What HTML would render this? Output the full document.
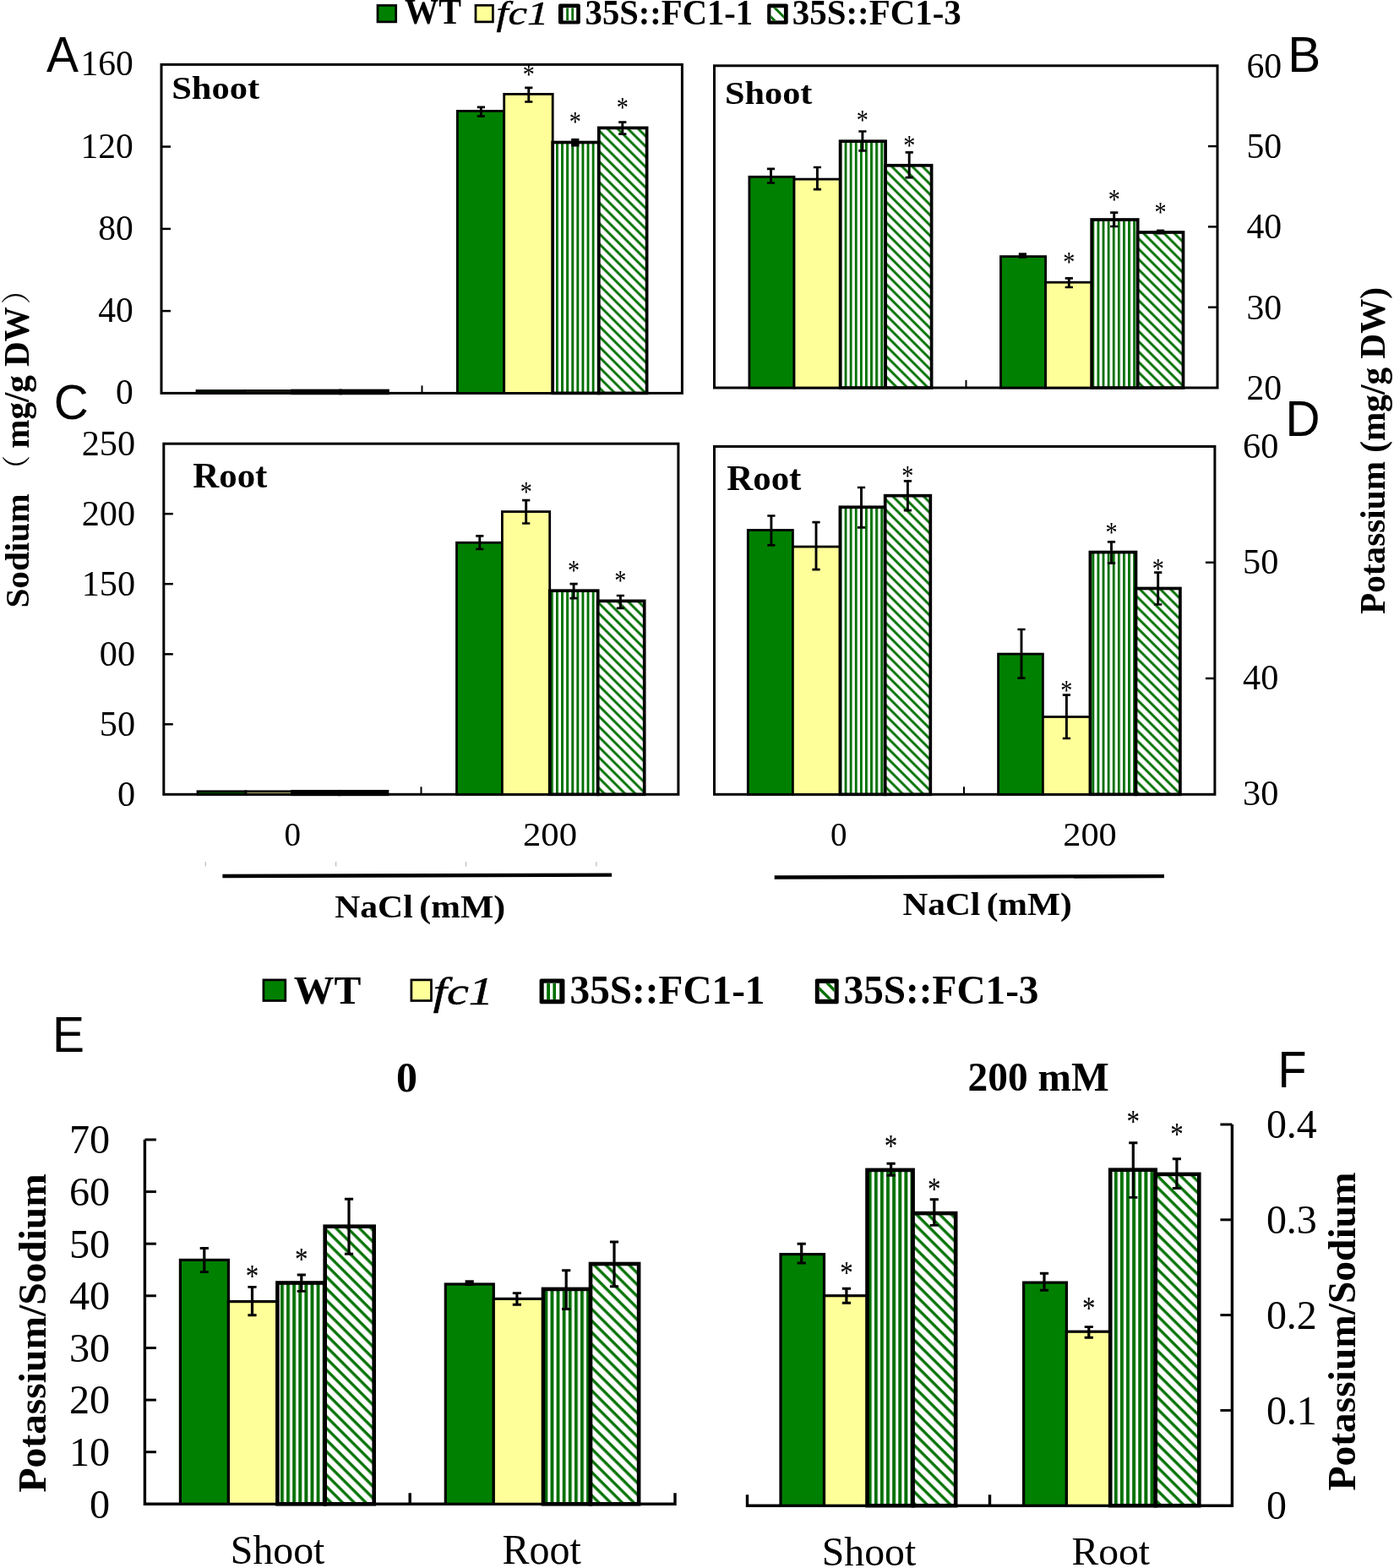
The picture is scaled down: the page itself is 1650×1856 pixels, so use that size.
<!DOCTYPE html>
<html><head><meta charset="utf-8"><title>Figure</title>
<style>html,body{margin:0;padding:0;background:#fff;width:1650px;height:1856px;overflow:hidden}svg{display:block}</style>
</head><body>
<svg width="1650" height="1856" viewBox="0 0 1650 1856">
<defs>
<pattern id="vs" patternUnits="userSpaceOnUse" width="6.1" height="10" patternTransform="translate(5.3 0)"><rect width="6.1" height="10" fill="#fff"/><rect x="0" width="2.9" height="10" fill="#007000"/></pattern>
<pattern id="ds" patternUnits="userSpaceOnUse" width="8.6" height="8.6" patternTransform="rotate(45)"><rect width="8.6" height="8.6" fill="#fff"/><rect y="2.16" width="8.6" height="2.9" fill="#007000"/></pattern>
<pattern id="vs2" patternUnits="userSpaceOnUse" width="7.1" height="10" patternTransform="translate(5.4 0)"><rect width="7.1" height="10" fill="#fff"/><rect x="0" width="3.9" height="10" fill="#007000"/></pattern>
<pattern id="ds2" patternUnits="userSpaceOnUse" width="9.75" height="9.75" patternTransform="rotate(45)"><rect width="9.75" height="9.75" fill="#fff"/><rect y="4.06" width="9.75" height="3.3" fill="#007000"/></pattern>
</defs>
<rect width="1650" height="1856" fill="#fff"/>
<rect x="447.0" y="6.4" width="21.7" height="19.5" fill="#008000" stroke="#000" stroke-width="2.7"/>
<rect x="563.0" y="6.3" width="20.4" height="19.6" fill="#ffff99" stroke="#000" stroke-width="2.7"/>
<clipPath id="lg1"><rect x="666.5" y="9.2" width="15.7" height="15.2"/></clipPath>
<rect x="661" y="4.4" width="25.8" height="24.2" rx="2" fill="#000"/>
<rect x="666.5" y="9.2" width="15.7" height="15.2" fill="#fff"/>
<g clip-path="url(#lg1)" fill="#007000" stroke="#007000">
<rect x="670.2" y="9.2" width="2.8" height="15.2" stroke="none"/>
<rect x="676.3" y="9.2" width="2.8" height="15.2" stroke="none"/>
</g>
<clipPath id="lg2"><rect x="912.4" y="9.2" width="15.5" height="15.2"/></clipPath>
<rect x="908.2" y="4.6" width="24.5" height="24.2" rx="2" fill="#000"/>
<rect x="912.4" y="9.2" width="15.5" height="15.2" fill="#fff"/>
<g clip-path="url(#lg2)" fill="#007000" stroke="#007000">
<path d="M892.4 -15.4L947.9 40.1" stroke-width="2.9" fill="none"/>
<path d="M892.4 -0.1L947.9 55.4" stroke-width="2.9" fill="none"/>
<path d="M892.4 -30.7L947.9 24.8" stroke-width="2.9" fill="none"/>
</g>
<rect x="311.9" y="1159.9" width="25.9" height="24.6" fill="#008000" stroke="#000" stroke-width="2.7"/>
<rect x="486.9" y="1159.9" width="23.6" height="24.6" fill="#ffff99" stroke="#000" stroke-width="2.7"/>
<clipPath id="lg3"><rect x="643.7" y="1163.7" width="18.7" height="19.4"/></clipPath>
<rect x="638.6" y="1158.6" width="29.8" height="29.6" rx="2" fill="#000"/>
<rect x="643.7" y="1163.7" width="18.7" height="19.4" fill="#fff"/>
<g clip-path="url(#lg3)" fill="#007000" stroke="#007000">
<rect x="647.1" y="1163.7" width="3.9" height="19.4" stroke="none"/>
<rect x="654.4" y="1163.7" width="3.6" height="19.4" stroke="none"/>
<rect x="661.9" y="1163.7" width="3.1" height="19.4" stroke="none"/>
</g>
<clipPath id="lg4"><rect x="969.7" y="1163.9" width="17.9" height="18.9"/></clipPath>
<rect x="964.8" y="1158.6" width="27.9" height="29.6" rx="2" fill="#000"/>
<rect x="969.7" y="1163.9" width="17.9" height="18.9" fill="#fff"/>
<g clip-path="url(#lg4)" fill="#007000" stroke="#007000">
<path d="M949.7 1134.2L1007.6 1192.1" stroke-width="3.4" fill="none"/>
<path d="M949.7 1150.0L1007.6 1207.9" stroke-width="3.4" fill="none"/>
<path d="M949.7 1118.4L1007.6 1176.3" stroke-width="3.4" fill="none"/>
</g>
<rect x="191" y="76.4" width="616.4" height="389.0" fill="none" stroke="#000" stroke-width="3"/>
<path d="M191 368.1H202" stroke="#000" stroke-width="2.5"/>
<path d="M191 270.9H202" stroke="#000" stroke-width="2.5"/>
<path d="M191 173.6H202" stroke="#000" stroke-width="2.5"/>
<text x="157.70" y="478.25" font-size="41.53" text-anchor="end" font-family="'Liberation Serif', 'Times New Roman', serif">0</text>
<text x="157.70" y="381.00" font-size="41.53" text-anchor="end" font-family="'Liberation Serif', 'Times New Roman', serif">40</text>
<text x="157.70" y="283.75" font-size="41.53" text-anchor="end" font-family="'Liberation Serif', 'Times New Roman', serif">80</text>
<text x="157.70" y="186.50" font-size="41.53" text-anchor="end" font-family="'Liberation Serif', 'Times New Roman', serif">120</text>
<text x="157.70" y="89.25" font-size="41.53" text-anchor="end" font-family="'Liberation Serif', 'Times New Roman', serif">160</text>
<path d="M499.5 465.4V456.4" stroke="#000" stroke-width="2"/>
<rect x="233.0" y="462.5" width="56.5" height="2.9" fill="#008000" stroke="#000" stroke-width="2.8"/>
<rect x="289.5" y="462.5" width="56.5" height="2.9" fill="#ffff99" stroke="#000" stroke-width="2.8"/>
<rect x="346.0" y="462.5" width="57.0" height="2.9" fill="url(#vs)" stroke="#000" stroke-width="3.7"/>
<rect x="403.0" y="462.5" width="56.0" height="2.9" fill="url(#ds)" stroke="#000" stroke-width="3.7"/>
<rect x="541.4" y="131.4" width="55.3" height="334.0" fill="#008000" stroke="#000" stroke-width="2.8"/>
<rect x="596.7" y="111.4" width="57.5" height="354.0" fill="#ffff99" stroke="#000" stroke-width="2.8"/>
<rect x="654.2" y="168.5" width="54.6" height="296.9" fill="url(#vs)" stroke="#000" stroke-width="3.7"/>
<rect x="708.8" y="151.4" width="56.8" height="314.0" fill="url(#ds)" stroke="#000" stroke-width="3.7"/>
<path d="M569.4 126.8V137.7" stroke="#000" stroke-width="2.9" fill="none"/>
<path d="M564.8 126.8H574.0M564.8 137.7H574.0" stroke="#000" stroke-width="2.7" fill="none"/>
<path d="M625.8 103.8V120.5" stroke="#000" stroke-width="2.9" fill="none"/>
<path d="M621.2 103.8H630.4M621.2 120.5H630.4" stroke="#000" stroke-width="2.7" fill="none"/>
<text transform="translate(625.8 82.8) scale(0.940 1.120)" x="0" y="14.3" font-size="30" text-anchor="middle" font-family="'Liberation Serif', 'Times New Roman', serif">*</text>
<rect x="676.2" y="163.9" width="9.2" height="9.6" fill="#000"/>
<text transform="translate(680.8 138.9) scale(0.940 1.120)" x="0" y="14.3" font-size="30" text-anchor="middle" font-family="'Liberation Serif', 'Times New Roman', serif">*</text>
<path d="M736.8 144.7V158.6" stroke="#000" stroke-width="2.9" fill="none"/>
<path d="M732.2 144.7H741.4M732.2 158.6H741.4" stroke="#000" stroke-width="2.7" fill="none"/>
<text transform="translate(736.8 122.3) scale(0.940 1.120)" x="0" y="14.3" font-size="30" text-anchor="middle" font-family="'Liberation Serif', 'Times New Roman', serif">*</text>
<rect x="845.5" y="77.8" width="595.5" height="381.2" fill="none" stroke="#000" stroke-width="3"/>
<path d="M1441 363.7H1430" stroke="#000" stroke-width="2.5"/>
<path d="M1441 268.4H1430" stroke="#000" stroke-width="2.5"/>
<path d="M1441 173.1H1430" stroke="#000" stroke-width="2.5"/>
<text x="1475.50" y="473.00" font-size="41.72" text-anchor="start" font-family="'Liberation Serif', 'Times New Roman', serif">20</text>
<text x="1475.50" y="377.70" font-size="41.72" text-anchor="start" font-family="'Liberation Serif', 'Times New Roman', serif">30</text>
<text x="1475.50" y="282.40" font-size="41.72" text-anchor="start" font-family="'Liberation Serif', 'Times New Roman', serif">40</text>
<text x="1475.50" y="187.10" font-size="41.72" text-anchor="start" font-family="'Liberation Serif', 'Times New Roman', serif">50</text>
<text x="1475.50" y="91.80" font-size="41.72" text-anchor="start" font-family="'Liberation Serif', 'Times New Roman', serif">60</text>
<path d="M1143.5 459V450" stroke="#000" stroke-width="2"/>
<rect x="886.9" y="209.3" width="53.1" height="249.7" fill="#008000" stroke="#000" stroke-width="2.8"/>
<rect x="940.0" y="212.1" width="54.6" height="246.9" fill="#ffff99" stroke="#000" stroke-width="2.8"/>
<rect x="994.6" y="167.2" width="53.5" height="291.8" fill="url(#vs)" stroke="#000" stroke-width="3.7"/>
<rect x="1048.1" y="195.8" width="54.5" height="263.2" fill="url(#ds)" stroke="#000" stroke-width="3.7"/>
<path d="M912.5 199.9V216.5" stroke="#000" stroke-width="2.9" fill="none"/>
<path d="M907.9 199.9H917.1M907.9 216.5H917.1" stroke="#000" stroke-width="2.7" fill="none"/>
<path d="M967.4 198.0V224.2" stroke="#000" stroke-width="2.9" fill="none"/>
<path d="M962.8 198.0H972.0M962.8 224.2H972.0" stroke="#000" stroke-width="2.7" fill="none"/>
<path d="M1020.9 155.5V178.4" stroke="#000" stroke-width="2.9" fill="none"/>
<path d="M1016.3 155.5H1025.5M1016.3 178.4H1025.5" stroke="#000" stroke-width="2.7" fill="none"/>
<text transform="translate(1020.9 137.1) scale(0.940 1.120)" x="0" y="14.3" font-size="30" text-anchor="middle" font-family="'Liberation Serif', 'Times New Roman', serif">*</text>
<path d="M1076.2 180.3V210.1" stroke="#000" stroke-width="2.9" fill="none"/>
<path d="M1071.6 180.3H1080.8M1071.6 210.1H1080.8" stroke="#000" stroke-width="2.7" fill="none"/>
<text transform="translate(1076.2 167.2) scale(0.940 1.120)" x="0" y="14.3" font-size="30" text-anchor="middle" font-family="'Liberation Serif', 'Times New Roman', serif">*</text>
<rect x="1184.5" y="303.6" width="53.1" height="155.4" fill="#008000" stroke="#000" stroke-width="2.8"/>
<rect x="1237.6" y="334.2" width="54.6" height="124.8" fill="#ffff99" stroke="#000" stroke-width="2.8"/>
<rect x="1292.2" y="260.0" width="54.5" height="199.0" fill="url(#vs)" stroke="#000" stroke-width="3.7"/>
<rect x="1346.7" y="275.0" width="53.8" height="184.0" fill="url(#ds)" stroke="#000" stroke-width="3.7"/>
<rect x="1205.8" y="299.3" width="9.2" height="6.5" fill="#000"/>
<path d="M1265.3 329.4V340.0" stroke="#000" stroke-width="2.9" fill="none"/>
<path d="M1260.7 329.4H1269.9M1260.7 340.0H1269.9" stroke="#000" stroke-width="2.7" fill="none"/>
<text transform="translate(1265.3 305.1) scale(0.940 1.120)" x="0" y="14.3" font-size="30" text-anchor="middle" font-family="'Liberation Serif', 'Times New Roman', serif">*</text>
<path d="M1318.7 251.7V268.0" stroke="#000" stroke-width="2.9" fill="none"/>
<path d="M1314.1 251.7H1323.3M1314.1 268.0H1323.3" stroke="#000" stroke-width="2.7" fill="none"/>
<text transform="translate(1318.7 230.5) scale(0.940 1.120)" x="0" y="14.3" font-size="30" text-anchor="middle" font-family="'Liberation Serif', 'Times New Roman', serif">*</text>
<rect x="1369.0" y="271.6" width="9.2" height="5.9" fill="#000"/>
<text transform="translate(1373.6 245.9) scale(0.940 1.120)" x="0" y="14.3" font-size="30" text-anchor="middle" font-family="'Liberation Serif', 'Times New Roman', serif">*</text>
<rect x="193.8" y="525.2" width="609.0999999999999" height="415.0999999999999" fill="none" stroke="#000" stroke-width="3"/>
<path d="M193.8 857.3H204.8" stroke="#000" stroke-width="2.5"/>
<path d="M193.8 774.3H204.8" stroke="#000" stroke-width="2.5"/>
<path d="M193.8 691.2H204.8" stroke="#000" stroke-width="2.5"/>
<path d="M193.8 608.2H204.8" stroke="#000" stroke-width="2.5"/>
<text x="160.10" y="954.33" font-size="42.30" text-anchor="end" font-family="'Liberation Serif', 'Times New Roman', serif">0</text>
<text x="160.10" y="871.31" font-size="42.30" text-anchor="end" font-family="'Liberation Serif', 'Times New Roman', serif">50</text>
<text x="160.10" y="788.29" font-size="42.30" text-anchor="end" font-family="'Liberation Serif', 'Times New Roman', serif">00</text>
<text x="160.10" y="705.27" font-size="42.30" text-anchor="end" font-family="'Liberation Serif', 'Times New Roman', serif">150</text>
<text x="160.10" y="622.25" font-size="42.30" text-anchor="end" font-family="'Liberation Serif', 'Times New Roman', serif">200</text>
<text x="160.10" y="539.23" font-size="42.30" text-anchor="end" font-family="'Liberation Serif', 'Times New Roman', serif">250</text>
<path d="M498.5 940.3V931.3" stroke="#000" stroke-width="2"/>
<rect x="234.0" y="936.8" width="57.0" height="3.5" fill="#008000" stroke="#000" stroke-width="2.8"/>
<rect x="291.0" y="936.8" width="55.0" height="3.5" fill="#ffff99" stroke="#000" stroke-width="2.8"/>
<rect x="346.0" y="936.8" width="56.0" height="3.5" fill="url(#vs)" stroke="#000" stroke-width="3.7"/>
<rect x="402.0" y="936.8" width="56.5" height="3.5" fill="url(#ds)" stroke="#000" stroke-width="3.7"/>
<rect x="540.5" y="642.3" width="53.9" height="298.0" fill="#008000" stroke="#000" stroke-width="2.8"/>
<rect x="594.4" y="605.6" width="56.3" height="334.7" fill="#ffff99" stroke="#000" stroke-width="2.8"/>
<rect x="650.7" y="699.2" width="57.0" height="241.1" fill="url(#vs)" stroke="#000" stroke-width="3.7"/>
<rect x="707.7" y="711.4" width="55.0" height="228.9" fill="url(#ds)" stroke="#000" stroke-width="3.7"/>
<path d="M567.8 634.4V650.0" stroke="#000" stroke-width="2.9" fill="none"/>
<path d="M563.2 634.4H572.4M563.2 650.0H572.4" stroke="#000" stroke-width="2.7" fill="none"/>
<path d="M622.7 592.1V619.5" stroke="#000" stroke-width="2.9" fill="none"/>
<path d="M618.1 592.1H627.3M618.1 619.5H627.3" stroke="#000" stroke-width="2.7" fill="none"/>
<text transform="translate(622.7 577.3) scale(0.940 1.120)" x="0" y="14.3" font-size="30" text-anchor="middle" font-family="'Liberation Serif', 'Times New Roman', serif">*</text>
<path d="M679.1 691.2V708.2" stroke="#000" stroke-width="2.9" fill="none"/>
<path d="M674.5 691.2H683.7M674.5 708.2H683.7" stroke="#000" stroke-width="2.7" fill="none"/>
<text transform="translate(679.1 670.4) scale(0.940 1.120)" x="0" y="14.3" font-size="30" text-anchor="middle" font-family="'Liberation Serif', 'Times New Roman', serif">*</text>
<path d="M734.4 705.0V719.8" stroke="#000" stroke-width="2.9" fill="none"/>
<path d="M729.8 705.0H739.0M729.8 719.8H739.0" stroke="#000" stroke-width="2.7" fill="none"/>
<text transform="translate(734.4 682.3) scale(0.940 1.120)" x="0" y="14.3" font-size="30" text-anchor="middle" font-family="'Liberation Serif', 'Times New Roman', serif">*</text>
<rect x="845.5" y="528.5" width="592.4000000000001" height="411.79999999999995" fill="none" stroke="#000" stroke-width="3"/>
<path d="M1437.9 803.0H1426.9" stroke="#000" stroke-width="2.5"/>
<path d="M1437.9 665.8H1426.9" stroke="#000" stroke-width="2.5"/>
<text x="1471.10" y="953.33" font-size="42.30" text-anchor="start" font-family="'Liberation Serif', 'Times New Roman', serif">30</text>
<text x="1471.10" y="816.06" font-size="42.30" text-anchor="start" font-family="'Liberation Serif', 'Times New Roman', serif">40</text>
<text x="1471.10" y="678.80" font-size="42.30" text-anchor="start" font-family="'Liberation Serif', 'Times New Roman', serif">50</text>
<text x="1471.10" y="541.53" font-size="42.30" text-anchor="start" font-family="'Liberation Serif', 'Times New Roman', serif">60</text>
<path d="M1141 940.3V931.3" stroke="#000" stroke-width="2"/>
<rect x="885.3" y="627.5" width="53.1" height="312.8" fill="#008000" stroke="#000" stroke-width="2.8"/>
<rect x="938.4" y="647.1" width="56.0" height="293.2" fill="#ffff99" stroke="#000" stroke-width="2.8"/>
<rect x="994.4" y="600.3" width="53.3" height="340.0" fill="url(#vs)" stroke="#000" stroke-width="3.7"/>
<rect x="1047.7" y="586.7" width="53.6" height="353.6" fill="url(#ds)" stroke="#000" stroke-width="3.7"/>
<path d="M912.9 610.5V645.4" stroke="#000" stroke-width="2.9" fill="none"/>
<path d="M908.3 610.5H917.5M908.3 645.4H917.5" stroke="#000" stroke-width="2.7" fill="none"/>
<path d="M966.0 618.2V674.2" stroke="#000" stroke-width="2.9" fill="none"/>
<path d="M961.4 618.2H970.6M961.4 674.2H970.6" stroke="#000" stroke-width="2.7" fill="none"/>
<path d="M1019.5 577.0V624.3" stroke="#000" stroke-width="2.9" fill="none"/>
<path d="M1014.9 577.0H1024.1M1014.9 624.3H1024.1" stroke="#000" stroke-width="2.7" fill="none"/>
<path d="M1074.4 569.3V604.2" stroke="#000" stroke-width="2.9" fill="none"/>
<path d="M1069.8 569.3H1079.0M1069.8 604.2H1079.0" stroke="#000" stroke-width="2.7" fill="none"/>
<text transform="translate(1074.4 558.1) scale(0.940 1.120)" x="0" y="14.3" font-size="30" text-anchor="middle" font-family="'Liberation Serif', 'Times New Roman', serif">*</text>
<rect x="1181.6" y="774.1" width="52.8" height="166.2" fill="#008000" stroke="#000" stroke-width="2.8"/>
<rect x="1234.4" y="848.5" width="56.0" height="91.8" fill="#ffff99" stroke="#000" stroke-width="2.8"/>
<rect x="1290.4" y="653.6" width="54.1" height="286.7" fill="url(#vs)" stroke="#000" stroke-width="3.7"/>
<rect x="1344.5" y="696.5" width="52.4" height="243.8" fill="url(#ds)" stroke="#000" stroke-width="3.7"/>
<path d="M1209.0 745.0V802.7" stroke="#000" stroke-width="2.9" fill="none"/>
<path d="M1204.4 745.0H1213.6M1204.4 802.7H1213.6" stroke="#000" stroke-width="2.7" fill="none"/>
<path d="M1262.4 822.7V874.0" stroke="#000" stroke-width="2.9" fill="none"/>
<path d="M1257.8 822.7H1267.0M1257.8 874.0H1267.0" stroke="#000" stroke-width="2.7" fill="none"/>
<text transform="translate(1262.4 812.2) scale(0.940 1.120)" x="0" y="14.3" font-size="30" text-anchor="middle" font-family="'Liberation Serif', 'Times New Roman', serif">*</text>
<path d="M1315.5 641.3V666.7" stroke="#000" stroke-width="2.9" fill="none"/>
<path d="M1310.9 641.3H1320.1M1310.9 666.7H1320.1" stroke="#000" stroke-width="2.7" fill="none"/>
<text transform="translate(1315.5 625.3) scale(0.940 1.120)" x="0" y="14.3" font-size="30" text-anchor="middle" font-family="'Liberation Serif', 'Times New Roman', serif">*</text>
<path d="M1370.7 677.6V715.5" stroke="#000" stroke-width="2.9" fill="none"/>
<path d="M1366.1 677.6H1375.3M1366.1 715.5H1375.3" stroke="#000" stroke-width="2.7" fill="none"/>
<text transform="translate(1370.7 667.5) scale(0.940 1.120)" x="0" y="14.3" font-size="30" text-anchor="middle" font-family="'Liberation Serif', 'Times New Roman', serif">*</text>
<path d="M263.4 1037L724.1 1035.6M916.7 1038.5L1377.9 1037.1" stroke="#000" stroke-width="4.4"/>
<path d="M243.2 1020V1025.6" stroke="#bbb" stroke-width="1.2"/>
<path d="M397.6 1020V1025.6" stroke="#bbb" stroke-width="1.2"/>
<path d="M551.5 1020V1025.6" stroke="#bbb" stroke-width="1.2"/>
<path d="M705.8 1020V1025.6" stroke="#bbb" stroke-width="1.2"/>
<path d="M171.4 1349V1780.3H799V1767.3M485.2 1780.3V1767.3" stroke="#000" stroke-width="3.4" fill="none"/>
<path d="M171.4 1718.7H184.9" stroke="#000" stroke-width="3"/>
<path d="M171.4 1657.1H184.9" stroke="#000" stroke-width="3"/>
<path d="M171.4 1595.5H184.9" stroke="#000" stroke-width="3"/>
<path d="M171.4 1533.8H184.9" stroke="#000" stroke-width="3"/>
<path d="M171.4 1472.2H184.9" stroke="#000" stroke-width="3"/>
<path d="M171.4 1410.6H184.9" stroke="#000" stroke-width="3"/>
<path d="M171.4 1349.0H184.9" stroke="#000" stroke-width="3"/>
<text x="130.10" y="1796.71" font-size="48.21" text-anchor="end" font-family="'Liberation Serif', 'Times New Roman', serif">0</text>
<text x="130.10" y="1735.10" font-size="48.21" text-anchor="end" font-family="'Liberation Serif', 'Times New Roman', serif">10</text>
<text x="130.10" y="1673.48" font-size="48.21" text-anchor="end" font-family="'Liberation Serif', 'Times New Roman', serif">20</text>
<text x="130.10" y="1611.87" font-size="48.21" text-anchor="end" font-family="'Liberation Serif', 'Times New Roman', serif">30</text>
<text x="130.10" y="1550.25" font-size="48.21" text-anchor="end" font-family="'Liberation Serif', 'Times New Roman', serif">40</text>
<text x="130.10" y="1488.64" font-size="48.21" text-anchor="end" font-family="'Liberation Serif', 'Times New Roman', serif">50</text>
<text x="130.10" y="1427.02" font-size="48.21" text-anchor="end" font-family="'Liberation Serif', 'Times New Roman', serif">60</text>
<text x="130.10" y="1365.41" font-size="48.21" text-anchor="end" font-family="'Liberation Serif', 'Times New Roman', serif">70</text>
<rect x="213.4" y="1491.4" width="57.0" height="288.9" fill="#008000" stroke="#000" stroke-width="3.2"/>
<rect x="270.4" y="1540.6" width="58.0" height="239.7" fill="#ffff99" stroke="#000" stroke-width="3.2"/>
<rect x="328.4" y="1518.5" width="56.3" height="261.8" fill="url(#vs2)" stroke="#000" stroke-width="4.6"/>
<rect x="384.7" y="1451.7" width="58.0" height="328.6" fill="url(#ds2)" stroke="#000" stroke-width="4.6"/>
<path d="M241.8 1477.5V1505.6" stroke="#000" stroke-width="3.2" fill="none"/>
<path d="M236.7 1477.5H246.9M236.7 1505.6H246.9" stroke="#000" stroke-width="2.9" fill="none"/>
<path d="M298.5 1523.4V1556.8" stroke="#000" stroke-width="3.2" fill="none"/>
<path d="M293.4 1523.4H303.6M293.4 1556.8H303.6" stroke="#000" stroke-width="2.9" fill="none"/>
<text transform="translate(298.5 1505.6) scale(1.034 1.232)" x="0" y="14.3" font-size="30" text-anchor="middle" font-family="'Liberation Serif', 'Times New Roman', serif">*</text>
<path d="M356.8 1509.0V1528.4" stroke="#000" stroke-width="3.2" fill="none"/>
<path d="M351.7 1509.0H361.9M351.7 1528.4H361.9" stroke="#000" stroke-width="2.9" fill="none"/>
<text transform="translate(356.8 1485.1) scale(1.034 1.232)" x="0" y="14.3" font-size="30" text-anchor="middle" font-family="'Liberation Serif', 'Times New Roman', serif">*</text>
<path d="M413.0 1419.2V1484.3" stroke="#000" stroke-width="3.2" fill="none"/>
<path d="M407.9 1419.2H418.1M407.9 1484.3H418.1" stroke="#000" stroke-width="2.9" fill="none"/>
<rect x="527.3" y="1520.0" width="57.0" height="260.3" fill="#008000" stroke="#000" stroke-width="3.2"/>
<rect x="584.3" y="1537.4" width="58.7" height="242.9" fill="#ffff99" stroke="#000" stroke-width="3.2"/>
<rect x="643.0" y="1525.9" width="56.0" height="254.4" fill="url(#vs2)" stroke="#000" stroke-width="4.6"/>
<rect x="699.0" y="1496.0" width="57.1" height="284.3" fill="url(#ds2)" stroke="#000" stroke-width="4.6"/>
<rect x="550.6" y="1515.3" width="10.2" height="6.7" fill="#000"/>
<path d="M611.9 1530.6V1544.3" stroke="#000" stroke-width="3.2" fill="none"/>
<path d="M606.8 1530.6H617.0M606.8 1544.3H617.0" stroke="#000" stroke-width="2.9" fill="none"/>
<path d="M670.2 1503.8V1549.5" stroke="#000" stroke-width="3.2" fill="none"/>
<path d="M665.1 1503.8H675.3M665.1 1549.5H675.3" stroke="#000" stroke-width="2.9" fill="none"/>
<path d="M727.0 1470.0V1522.7" stroke="#000" stroke-width="3.2" fill="none"/>
<path d="M721.9 1470.0H732.1M721.9 1522.7H732.1" stroke="#000" stroke-width="2.9" fill="none"/>
<path d="M884.5 1769.2V1782.2H1458.4V1331M1171.5 1782.2V1769.2" stroke="#000" stroke-width="3.4" fill="none"/>
<path d="M1458.4 1669.4H1444.4" stroke="#000" stroke-width="3"/>
<path d="M1458.4 1556.6H1444.4" stroke="#000" stroke-width="3"/>
<path d="M1458.4 1443.8H1444.4" stroke="#000" stroke-width="3"/>
<path d="M1458.4 1331.0H1444.4" stroke="#000" stroke-width="3"/>
<text x="1498.90" y="1798.36" font-size="47.93" text-anchor="start" font-family="'Liberation Serif', 'Times New Roman', serif">0</text>
<text x="1498.90" y="1685.56" font-size="47.93" text-anchor="start" font-family="'Liberation Serif', 'Times New Roman', serif">0.1</text>
<text x="1498.90" y="1572.76" font-size="47.93" text-anchor="start" font-family="'Liberation Serif', 'Times New Roman', serif">0.2</text>
<text x="1498.90" y="1459.96" font-size="47.93" text-anchor="start" font-family="'Liberation Serif', 'Times New Roman', serif">0.3</text>
<text x="1498.90" y="1347.16" font-size="47.93" text-anchor="start" font-family="'Liberation Serif', 'Times New Roman', serif">0.4</text>
<rect x="924.0" y="1484.6" width="51.5" height="297.6" fill="#008000" stroke="#000" stroke-width="3.2"/>
<rect x="975.5" y="1533.7" width="51.0" height="248.5" fill="#ffff99" stroke="#000" stroke-width="3.2"/>
<rect x="1026.5" y="1384.9" width="54.1" height="397.3" fill="url(#vs2)" stroke="#000" stroke-width="4.6"/>
<rect x="1080.6" y="1436.1" width="50.6" height="346.1" fill="url(#ds2)" stroke="#000" stroke-width="4.6"/>
<path d="M948.7 1472.2V1495.0" stroke="#000" stroke-width="3.2" fill="none"/>
<path d="M943.6 1472.2H953.8M943.6 1495.0H953.8" stroke="#000" stroke-width="2.9" fill="none"/>
<path d="M1001.9 1525.2V1542.2" stroke="#000" stroke-width="3.2" fill="none"/>
<path d="M996.8 1525.2H1007.0M996.8 1542.2H1007.0" stroke="#000" stroke-width="2.9" fill="none"/>
<text transform="translate(1001.9 1501.0) scale(1.034 1.232)" x="0" y="14.3" font-size="30" text-anchor="middle" font-family="'Liberation Serif', 'Times New Roman', serif">*</text>
<path d="M1054.6 1377.3V1391.3" stroke="#000" stroke-width="3.2" fill="none"/>
<path d="M1049.5 1377.3H1059.7M1049.5 1391.3H1059.7" stroke="#000" stroke-width="2.9" fill="none"/>
<text transform="translate(1054.6 1351.1) scale(1.034 1.232)" x="0" y="14.3" font-size="30" text-anchor="middle" font-family="'Liberation Serif', 'Times New Roman', serif">*</text>
<path d="M1105.8 1419.8V1450.4" stroke="#000" stroke-width="3.2" fill="none"/>
<path d="M1100.7 1419.8H1110.9M1100.7 1450.4H1110.9" stroke="#000" stroke-width="2.9" fill="none"/>
<text transform="translate(1105.8 1402.0) scale(1.034 1.232)" x="0" y="14.3" font-size="30" text-anchor="middle" font-family="'Liberation Serif', 'Times New Roman', serif">*</text>
<rect x="1211.6" y="1518.1" width="50.8" height="264.1" fill="#008000" stroke="#000" stroke-width="3.2"/>
<rect x="1262.4" y="1576.2" width="51.8" height="206.0" fill="#ffff99" stroke="#000" stroke-width="3.2"/>
<rect x="1314.2" y="1384.7" width="53.5" height="397.5" fill="url(#vs2)" stroke="#000" stroke-width="4.6"/>
<rect x="1367.7" y="1389.9" width="51.6" height="392.3" fill="url(#ds2)" stroke="#000" stroke-width="4.6"/>
<path d="M1236.0 1507.3V1527.2" stroke="#000" stroke-width="3.2" fill="none"/>
<path d="M1230.9 1507.3H1241.1M1230.9 1527.2H1241.1" stroke="#000" stroke-width="2.9" fill="none"/>
<path d="M1288.8 1570.6V1583.3" stroke="#000" stroke-width="3.2" fill="none"/>
<path d="M1283.7 1570.6H1293.9M1283.7 1583.3H1293.9" stroke="#000" stroke-width="2.9" fill="none"/>
<text transform="translate(1288.8 1543.0) scale(1.034 1.232)" x="0" y="14.3" font-size="30" text-anchor="middle" font-family="'Liberation Serif', 'Times New Roman', serif">*</text>
<path d="M1341.3 1352.7V1417.4" stroke="#000" stroke-width="3.2" fill="none"/>
<path d="M1336.2 1352.7H1346.4M1336.2 1417.4H1346.4" stroke="#000" stroke-width="2.9" fill="none"/>
<text transform="translate(1341.3 1322.8) scale(1.034 1.232)" x="0" y="14.3" font-size="30" text-anchor="middle" font-family="'Liberation Serif', 'Times New Roman', serif">*</text>
<path d="M1392.9 1371.8V1406.5" stroke="#000" stroke-width="3.2" fill="none"/>
<path d="M1387.8 1371.8H1398.0M1387.8 1406.5H1398.0" stroke="#000" stroke-width="2.9" fill="none"/>
<text transform="translate(1392.9 1337.1) scale(1.034 1.232)" x="0" y="14.3" font-size="30" text-anchor="middle" font-family="'Liberation Serif', 'Times New Roman', serif">*</text>
<text x="55.00" y="85.20" font-size="58.72" font-family="'Liberation Sans', Arial, sans-serif" textLength="38.00" lengthAdjust="spacingAndGlyphs">A</text>
<text x="1524.20" y="85.40" font-size="58.41" font-family="'Liberation Sans', Arial, sans-serif" textLength="39.00" lengthAdjust="spacingAndGlyphs">B</text>
<text x="63.80" y="496.00" font-size="57.79" font-family="'Liberation Sans', Arial, sans-serif" textLength="41.00" lengthAdjust="spacingAndGlyphs">C</text>
<text x="1521.60" y="516.20" font-size="58.72" font-family="'Liberation Sans', Arial, sans-serif" textLength="41.00" lengthAdjust="spacingAndGlyphs">D</text>
<text x="62.00" y="1245.20" font-size="58.72" font-family="'Liberation Sans', Arial, sans-serif" textLength="38.00" lengthAdjust="spacingAndGlyphs">E</text>
<text x="1512.60" y="1286.60" font-size="60.47" font-family="'Liberation Sans', Arial, sans-serif" textLength="34.00" lengthAdjust="spacingAndGlyphs">F</text>
<text x="203.20" y="117.00" font-size="38.87" font-family="'Liberation Serif', 'Times New Roman', serif" font-weight="bold" textLength="104.00" lengthAdjust="spacingAndGlyphs">Shoot</text>
<text x="858.00" y="123.00" font-size="38.56" font-family="'Liberation Serif', 'Times New Roman', serif" font-weight="bold" textLength="103.40" lengthAdjust="spacingAndGlyphs">Shoot</text>
<text x="228.20" y="577.00" font-size="42.74" font-family="'Liberation Serif', 'Times New Roman', serif" font-weight="bold" textLength="88.20" lengthAdjust="spacingAndGlyphs">Root</text>
<text x="860.20" y="580.00" font-size="42.00" font-family="'Liberation Serif', 'Times New Roman', serif" font-weight="bold" textLength="88.20" lengthAdjust="spacingAndGlyphs">Root</text>
<text x="336.40" y="1000.60" font-size="39.06" font-family="'Liberation Serif', 'Times New Roman', serif">0</text>
<text x="619.00" y="1000.60" font-size="39.06" font-family="'Liberation Serif', 'Times New Roman', serif" textLength="64.10" lengthAdjust="spacingAndGlyphs">200</text>
<text x="983.00" y="1001.00" font-size="39.00" font-family="'Liberation Serif', 'Times New Roman', serif">0</text>
<text x="1258.20" y="1001.00" font-size="39.00" font-family="'Liberation Serif', 'Times New Roman', serif" textLength="63.60" lengthAdjust="spacingAndGlyphs">200</text>
<text x="396.20" y="1086.00" font-size="38.67" font-family="'Liberation Serif', 'Times New Roman', serif" font-weight="bold" textLength="201.90" lengthAdjust="spacingAndGlyphs">NaCl<tspan dx="7">(mM)</tspan></text>
<text x="1068.40" y="1083.00" font-size="38.67" font-family="'Liberation Serif', 'Times New Roman', serif" font-weight="bold" textLength="200.40" lengthAdjust="spacingAndGlyphs">NaCl<tspan dx="7">(mM)</tspan></text>
<text x="479.00" y="28.40" font-size="41.42" font-family="'Liberation Serif', 'Times New Roman', serif" font-weight="bold" textLength="66.90" lengthAdjust="spacingAndGlyphs">WT</text>
<text x="587.40" y="29.00" font-size="40.26" font-family="'Liberation Serif', 'Times New Roman', serif" font-style="italic" textLength="61.90" lengthAdjust="spacingAndGlyphs" stroke="#000" stroke-width="0.45">fc1</text>
<text x="692.60" y="29.40" font-size="41.72" font-family="'Liberation Serif', 'Times New Roman', serif" font-weight="bold" textLength="198.50" lengthAdjust="spacingAndGlyphs">35S::FC1-1</text>
<text x="937.80" y="29.00" font-size="42.56" font-family="'Liberation Serif', 'Times New Roman', serif" font-weight="bold" textLength="200.00" lengthAdjust="spacingAndGlyphs">35S::FC1-3</text>
<text x="347.80" y="1188.00" font-size="47.07" font-family="'Liberation Serif', 'Times New Roman', serif" font-weight="bold" textLength="79.60" lengthAdjust="spacingAndGlyphs">WT</text>
<text x="512.80" y="1188.80" font-size="45.41" font-family="'Liberation Serif', 'Times New Roman', serif" font-style="italic" textLength="71.20" lengthAdjust="spacingAndGlyphs" stroke="#000" stroke-width="0.5">fc1</text>
<text x="674.60" y="1188.40" font-size="49.06" font-family="'Liberation Serif', 'Times New Roman', serif" font-weight="bold" textLength="230.90" lengthAdjust="spacingAndGlyphs">35S::FC1-1</text>
<text x="998.60" y="1188.00" font-size="48.49" font-family="'Liberation Serif', 'Times New Roman', serif" font-weight="bold" textLength="230.90" lengthAdjust="spacingAndGlyphs">35S::FC1-3</text>
<text transform="translate(33.60 719.60) rotate(-90)" font-size="40.52" font-family="'Liberation Serif', 'Times New Roman', serif" font-weight="bold" textLength="135.20" lengthAdjust="spacingAndGlyphs">Sodium</text>
<text transform="translate(32.00 572.80) rotate(-90)" font-size="33.84" font-family="'Liberation Serif', 'Noto Serif CJK SC', serif">（</text>
<text transform="translate(34.00 530.80) rotate(-90)" font-size="42.00" font-family="'Liberation Serif', 'Times New Roman', serif" font-weight="bold" textLength="167.60" lengthAdjust="spacingAndGlyphs">mg/g DW</text>
<text transform="translate(32.00 360.20) rotate(-90)" font-size="35.39" font-family="'Liberation Serif', 'Noto Serif CJK SC', serif">）</text>
<text transform="translate(1639.00 727.00) rotate(-90)" font-size="41.59" font-family="'Liberation Serif', 'Times New Roman', serif" font-weight="bold" textLength="387.10" lengthAdjust="spacingAndGlyphs">Potassium (mg/g DW)</text>
<text transform="translate(53.80 1766.40) rotate(-90)" font-size="46.12" font-family="'Liberation Serif', 'Times New Roman', serif" font-weight="bold" textLength="377.20" lengthAdjust="spacingAndGlyphs">Potassium/Sodium</text>
<text transform="translate(1603.60 1764.40) rotate(-90)" font-size="46.81" font-family="'Liberation Serif', 'Times New Roman', serif" font-weight="bold" textLength="376.90" lengthAdjust="spacingAndGlyphs">Potassium/Sodium</text>
<text x="469.00" y="1292.20" font-size="50.20" font-family="'Liberation Serif', 'Times New Roman', serif" font-weight="bold" textLength="25.00" lengthAdjust="spacingAndGlyphs">0</text>
<text x="1145.60" y="1290.80" font-size="49.04" font-family="'Liberation Serif', 'Times New Roman', serif" font-weight="bold" textLength="167.00" lengthAdjust="spacingAndGlyphs">200 mM</text>
<text x="272.80" y="1851.20" font-size="47.65" font-family="'Liberation Serif', 'Times New Roman', serif" textLength="111.60" lengthAdjust="spacingAndGlyphs">Shoot</text>
<text x="594.50" y="1851.20" font-size="49.86" font-family="'Liberation Serif', 'Times New Roman', serif" textLength="93.30" lengthAdjust="spacingAndGlyphs">Root</text>
<text x="972.80" y="1853.20" font-size="47.65" font-family="'Liberation Serif', 'Times New Roman', serif" textLength="111.40" lengthAdjust="spacingAndGlyphs">Shoot</text>
<text x="1268.50" y="1852.20" font-size="47.41" font-family="'Liberation Serif', 'Times New Roman', serif" textLength="92.60" lengthAdjust="spacingAndGlyphs">Root</text>
</svg>
</body></html>
